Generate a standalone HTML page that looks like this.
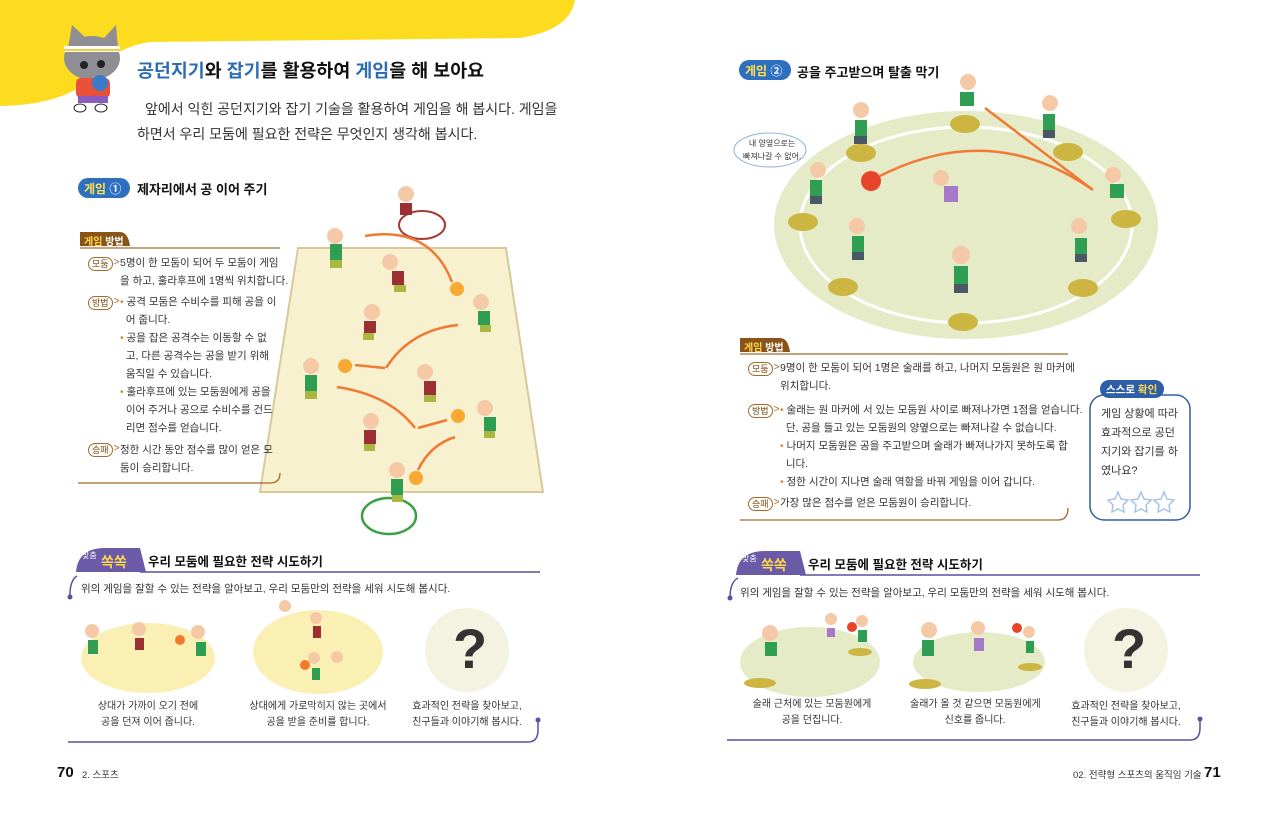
<!DOCTYPE html>
<html><head><meta charset="utf-8"><style>
*{margin:0;padding:0;box-sizing:border-box}
body{width:1280px;height:814px;background:#fff;position:relative;overflow:hidden;font-family:"Liberation Sans","Noto Sans CJK KR",sans-serif;color:#333}
.t{position:absolute;white-space:nowrap}
.s{font-size:10.5px;color:#333;line-height:18px}
.lbl{position:absolute;font-size:9px;color:#7a4a14;border:1px solid #a36a2a;border-radius:8px;padding:0 3px;line-height:12px;background:#fff}
.lbl:after{content:">";position:absolute;right:-8px;top:-1px;color:#a36a2a;font-size:10px}
.b{color:#e08a3a}
svg{position:absolute;left:0;top:0}
</style></head><body>
<svg width="1280" height="814">
<path d="M0 0 H575 Q570 30 520 38 L150 42 Q110 48 90 80 Q60 105 0 106 Z" fill="#fddc1f"/>
<g>
<ellipse cx="92" cy="58" rx="28" ry="22" fill="#8e8e94"/>
<path d="M68 48 L72 25 L86 38 Z M104 38 L116 25 L118 48 Z" fill="#8e8e94"/>
<rect x="64" y="46" width="56" height="6" fill="#fff"/>
<rect x="64" y="49" width="56" height="2" fill="#f2d03c"/>
<circle cx="84" cy="65" r="4" fill="#222"/><circle cx="101" cy="64" r="4" fill="#222"/>
<rect x="76" y="78" width="34" height="20" rx="5" fill="#e8503a"/>
<rect x="78" y="96" width="30" height="7" fill="#8a5cc0"/>
<circle cx="100" cy="83" r="8" fill="#3a7ac8"/>
<ellipse cx="80" cy="108" rx="6" ry="4" fill="#fff" stroke="#222"/><ellipse cx="101" cy="108" rx="6" ry="4" fill="#fff" stroke="#222"/>
</g>
<polygon points="298,248 506,248 543,492 260,492" fill="#f8f1cf" stroke="#d8c99a" stroke-width="2"/>
<ellipse cx="422" cy="225" rx="23" ry="14" fill="none" stroke="#a83a35" stroke-width="2"/>
<ellipse cx="389" cy="516" rx="27" ry="18" fill="none" stroke="#3aa040" stroke-width="2.5"/>
<g fill="none" stroke="#f07a35" stroke-width="2.5">
<path d="M365 236 Q430 225 452 282"/><path d="M458 325 Q410 330 386 368"/><path d="M385 368 L355 365"/>
<path d="M337 387 Q390 395 415 428"/><path d="M418 428 L447 420"/><path d="M455 437 Q430 445 418 470"/>
</g>
<g fill="#f7a933"><circle cx="457" cy="289" r="7"/><circle cx="345" cy="366" r="7"/><circle cx="458" cy="416" r="7"/><circle cx="416" cy="478" r="7"/></g>
<g>
<g fill="#f5c9a5"><circle cx="406" cy="194" r="8"/><circle cx="335" cy="236" r="8"/><circle cx="390" cy="262" r="8"/><circle cx="481" cy="302" r="8"/><circle cx="372" cy="312" r="8"/><circle cx="311" cy="366" r="8"/><circle cx="425" cy="372" r="8"/><circle cx="485" cy="408" r="8"/><circle cx="371" cy="421" r="8"/><circle cx="397" cy="470" r="8"/></g>
<g fill="#2f9d52"><rect x="330" y="244" width="12" height="16"/><rect x="478" y="311" width="12" height="14"/><rect x="305" y="375" width="12" height="16"/><rect x="484" y="417" width="12" height="14"/><rect x="391" y="479" width="12" height="16"/></g>
<g fill="#9b2f33"><rect x="400" y="203" width="12" height="12"/><rect x="392" y="271" width="12" height="14"/><rect x="364" y="321" width="12" height="12"/><rect x="424" y="381" width="12" height="14"/><rect x="364" y="430" width="12" height="14"/></g>
<g fill="#a8b843"><rect x="330" y="260" width="12" height="8"/><rect x="394" y="285" width="12" height="7"/><rect x="480" y="325" width="11" height="7"/><rect x="363" y="333" width="11" height="7"/><rect x="305" y="391" width="12" height="8"/><rect x="424" y="395" width="12" height="7"/><rect x="484" y="431" width="11" height="7"/><rect x="364" y="444" width="11" height="7"/><rect x="392" y="495" width="11" height="7"/></g>
</g>
<ellipse cx="966" cy="225" rx="192" ry="114" fill="#e6ebc7"/>
<ellipse cx="966" cy="225" rx="166" ry="98" fill="none" stroke="#fff" stroke-width="3"/>
<g fill="#cdb542"><ellipse cx="965" cy="124" rx="15" ry="9"/><ellipse cx="861" cy="153" rx="15" ry="9"/><ellipse cx="1068" cy="152" rx="15" ry="9"/><ellipse cx="803" cy="222" rx="15" ry="9"/><ellipse cx="1126" cy="219" rx="15" ry="9"/><ellipse cx="843" cy="287" rx="15" ry="9"/><ellipse cx="1083" cy="288" rx="15" ry="9"/><ellipse cx="963" cy="322" rx="15" ry="9"/></g>
<g fill="none" stroke="#f07a35" stroke-width="2.5"><path d="M985 108 L1093 190"/><path d="M1090 188 Q990 120 880 176"/></g>
<circle cx="871" cy="181" r="10" fill="#e8442a"/>
<g fill="#f5c9a5"><circle cx="968" cy="82" r="8"/><circle cx="861" cy="110" r="8"/><circle cx="1050" cy="103" r="8"/><circle cx="818" cy="170" r="8"/><circle cx="941" cy="178" r="8"/><circle cx="1113" cy="175" r="8"/><circle cx="857" cy="226" r="8"/><circle cx="1079" cy="226" r="8"/><circle cx="961" cy="255" r="9"/></g>
<g fill="#2f9d52"><rect x="960" y="92" width="14" height="14"/><rect x="855" y="120" width="12" height="16"/><rect x="1043" y="114" width="12" height="16"/><rect x="810" y="180" width="12" height="16"/><rect x="1110" y="184" width="14" height="14"/><rect x="852" y="236" width="12" height="16"/><rect x="1075" y="238" width="12" height="16"/><rect x="954" y="266" width="14" height="18"/></g>
<rect x="944" y="186" width="14" height="16" fill="#a679c8"/>
<g fill="#4a5866"><rect x="854" y="136" width="13" height="8"/><rect x="1043" y="130" width="12" height="8"/><rect x="810" y="196" width="12" height="8"/><rect x="852" y="252" width="12" height="8"/><rect x="1075" y="254" width="12" height="8"/><rect x="954" y="284" width="14" height="9"/></g>
<ellipse cx="770" cy="150" rx="36" ry="17" fill="#fff" stroke="#8fb2d8"/>
<rect x="1090" y="395" width="100" height="125" rx="14" fill="#fff" stroke="#2f5ea8" stroke-width="1.5"/>
<rect x="1100" y="380" width="64" height="18" rx="9" fill="#2f5ea8"/>
<g fill="none" stroke="#a9c2e6" stroke-width="1.5"><polygon points="1118,492 1121,499 1128,500 1123,505 1124,512 1118,509 1112,512 1113,505 1108,500 1115,499"/><polygon points="1141,492 1144,499 1151,500 1146,505 1147,512 1141,509 1135,512 1136,505 1131,500 1138,499"/><polygon points="1164,492 1167,499 1174,500 1169,505 1170,512 1164,509 1158,512 1159,505 1154,500 1161,499"/></g>
<g stroke="#a36a2a" stroke-width="1.3" fill="none"><path d="M80 248 H280"/><path d="M78 483 H270 Q280 483 280 473"/><path d="M740 354 H1068"/><path d="M740 520 H1058 Q1068 520 1068 508"/></g>
<path d="M80 232 h40 q8 0 10 14 h-50 z" fill="#8a5418"/>
<path d="M740 338 h40 q8 0 10 14 h-50 z" fill="#8a5418"/>
<rect x="78" y="178" width="52" height="20" rx="10" fill="#2f6fc0"/>
<rect x="739" y="60" width="52" height="20" rx="10" fill="#2f6fc0"/>
<g stroke="#5a4fa0" stroke-width="1.5" fill="none">
<path d="M140 572 H540"/><path d="M77 576 Q70 580 70 595"/><path d="M68 742 H528 Q538 742 538 730 V720"/>
<path d="M800 575 H1200"/><path d="M738 578 Q730 582 730 598"/><path d="M727 740 H1190 Q1200 740 1200 728 V720"/>
</g>
<g fill="#5a4fa0"><circle cx="70" cy="597" r="2.5"/><circle cx="538" cy="720" r="2.5"/><circle cx="730" cy="598" r="2.5"/><circle cx="1200" cy="719" r="2.5"/></g>
<path d="M76 572 Q78 548 105 548 H140 L146 572 Z" fill="#6a5aa8"/>
<path d="M736 575 Q738 551 765 551 H800 L806 575 Z" fill="#6a5aa8"/>
<ellipse cx="148" cy="658" rx="67" ry="35" fill="#fbf0b4"/>
<ellipse cx="318" cy="652" rx="65" ry="42" fill="#fbf0b4"/>
<circle cx="467" cy="650" r="42" fill="#f4f2e0"/>
<ellipse cx="810" cy="662" rx="70" ry="35" fill="#e6ebc7"/>
<ellipse cx="979" cy="662" rx="66" ry="30" fill="#e6ebc7"/>
<circle cx="1126" cy="650" r="42" fill="#f4f2e0"/>
<g fill="#f5c9a5"><circle cx="92" cy="631" r="7"/><circle cx="139" cy="629" r="7"/><circle cx="198" cy="632" r="7"/><circle cx="285" cy="606" r="6"/><circle cx="316" cy="618" r="6"/><circle cx="314" cy="658" r="6"/><circle cx="337" cy="657" r="6"/><circle cx="770" cy="633" r="8"/><circle cx="831" cy="619" r="6"/><circle cx="862" cy="621" r="6"/><circle cx="929" cy="630" r="8"/><circle cx="978" cy="628" r="7"/><circle cx="1029" cy="632" r="6"/></g>
<g fill="#2f9d52"><rect x="88" y="640" width="10" height="14"/><rect x="196" y="642" width="10" height="14"/><rect x="312" y="668" width="8" height="12"/><rect x="765" y="642" width="12" height="14"/><rect x="858" y="630" width="9" height="12"/><rect x="922" y="640" width="12" height="16"/><rect x="1026" y="641" width="8" height="12"/></g>
<g fill="#9b2f33"><rect x="135" y="638" width="9" height="12"/><rect x="313" y="626" width="8" height="12"/></g>
<rect x="974" y="638" width="10" height="13" fill="#a679c8"/><rect x="827" y="628" width="8" height="9" fill="#a679c8"/>
<g fill="#f07a2a"><circle cx="180" cy="640" r="5"/><circle cx="305" cy="665" r="5"/></g><g fill="#e8442a"><circle cx="852" cy="627" r="5"/><circle cx="1017" cy="628" r="5"/></g>
<g fill="#cdb542"><ellipse cx="760" cy="683" rx="16" ry="5"/><ellipse cx="860" cy="652" rx="12" ry="4"/><ellipse cx="925" cy="684" rx="16" ry="5"/><ellipse cx="1030" cy="667" rx="12" ry="4"/></g>
</svg>
<div class="t" style="left:137px;top:57px;font-size:18.4px;font-weight:bold;color:#111"><span style="color:#2e6db4">공던지기</span>와 <span style="color:#2e6db4">잡기</span>를 활용하여 <span style="color:#2e6db4">게임</span>을 해 보아요</div>
<div class="t" style="left:145px;top:99px;font-size:14px;color:#333">앞에서 익힌 공던지기와 잡기 기술을 활용하여 게임을 해 봅시다. 게임을</div>
<div class="t" style="left:137px;top:124px;font-size:14px;color:#333">하면서 우리 모둠에 필요한 전략은 무엇인지 생각해 봅시다.</div>
<div class="t" style="left:84px;top:180px;font-size:12px;font-weight:bold;color:#ffe04a">게임 <span style="color:#fff">①</span></div>
<div class="t" style="left:137px;top:179px;font-size:13px;font-weight:bold;color:#111">제자리에서 공 이어 주기</div>
<div class="t" style="left:84px;top:233px;font-size:10px;font-weight:bold;color:#ffd84a">게임 <span style="color:#fff">방법</span></div>
<span class="lbl" style="left:88px;top:257px">모둠</span>
<div class="t s" style="left:120px;top:254px">5명이 한 모둠이 되어 두 모둠이 게임<br>을 하고, 훌라후프에 1명씩 위치합니다.</div>
<span class="lbl" style="left:88px;top:296px">방법</span>
<div class="t s" style="left:120px;top:293px"><span class="b">•</span> 공격 모둠은 수비수를 피해 공을 이<br>&nbsp;&nbsp;어 줍니다.<br><span class="b">•</span> 공을 잡은 공격수는 이동할 수 없<br>&nbsp;&nbsp;고, 다른 공격수는 공을 받기 위해<br>&nbsp;&nbsp;움직일 수 있습니다.<br><span class="b">•</span> 훌라후프에 있는 모둠원에게 공을<br>&nbsp;&nbsp;이어 주거나 공으로 수비수를 건드<br>&nbsp;&nbsp;리면 점수를 얻습니다.</div>
<span class="lbl" style="left:88px;top:443px">승패</span>
<div class="t s" style="left:120px;top:441px">정한 시간 동안 점수를 많이 얻은 모<br>둠이 승리합니다.</div>

<div class="t" style="left:745px;top:62px;font-size:12px;font-weight:bold;color:#ffe04a">게임 <span style="color:#fff">②</span></div>
<div class="t" style="left:797px;top:62px;font-size:13px;font-weight:bold;color:#111">공을 주고받으며 탈출 막기</div>
<div class="t" style="left:743px;top:137px;font-size:8px;line-height:13px;text-align:center;color:#333">내 양옆으로는<br>빠져나갈 수 없어.</div>
<div class="t" style="left:744px;top:339px;font-size:10px;font-weight:bold;color:#ffd84a">게임 <span style="color:#fff">방법</span></div>
<span class="lbl" style="left:748px;top:362px">모둠</span>
<div class="t s" style="left:780px;top:359px">9명이 한 모둠이 되어 1명은 술래를 하고, 나머지 모둠원은 원 마커에<br>위치합니다.</div>
<span class="lbl" style="left:748px;top:404px">방법</span>
<div class="t s" style="left:780px;top:401px"><span class="b">•</span> 술래는 원 마커에 서 있는 모둠원 사이로 빠져나가면 1점을 얻습니다.<br>&nbsp;&nbsp;단, 공을 들고 있는 모둠원의 양옆으로는 빠져나갈 수 없습니다.<br><span class="b">•</span> 나머지 모둠원은 공을 주고받으며 술래가 빠져나가지 못하도록 합<br>&nbsp;&nbsp;니다.<br><span class="b">•</span> 정한 시간이 지나면 술래 역할을 바꿔 게임을 이어 갑니다.</div>
<span class="lbl" style="left:748px;top:497px">승패</span>
<div class="t s" style="left:780px;top:494px">가장 많은 점수를 얻은 모둠원이 승리합니다.</div>
<div class="t" style="left:1106px;top:382px;font-size:10.5px;font-weight:bold;color:#fff">스스로 <span style="color:#ffd84a">확인</span></div>
<div class="t" style="left:1101px;top:405px;font-size:11px;line-height:19px;color:#333">게임 상황에 따라<br>효과적으로 공던<br>지기와 잡기를 하<br>였나요?</div>

<div class="t" style="left:82px;top:550px;font-size:8px;color:#fff">맞춤</div><div class="t" style="left:101px;top:552px;font-size:14px;font-weight:bold;color:#ffd84a">쏙쏙</div>
<div class="t" style="left:148px;top:551px;font-size:12.5px;font-weight:bold;color:#111">우리 모둠에 필요한 전략 시도하기</div>
<div class="t" style="left:81px;top:581px;font-size:10.5px;color:#333">위의 게임을 잘할 수 있는 전략을 알아보고, 우리 모둠만의 전략을 세워 시도해 봅시다.</div>
<div class="t" style="left:88px;top:699px;font-size:10px;line-height:16px;text-align:center;width:120px">상대가 가까이 오기 전에<br>공을 던져 이어 줍니다.</div>
<div class="t" style="left:248px;top:699px;font-size:10px;line-height:16px;text-align:center;width:140px">상대에게 가로막히지 않는 곳에서<br>공을 받을 준비를 합니다.</div>
<div class="t" style="left:407px;top:699px;font-size:10px;line-height:16px;text-align:center;width:120px">효과적인 전략을 찾아보고,<br>친구들과 이야기해 봅시다.</div>
<div class="t" style="left:453px;top:616px;font-size:56px;font-weight:bold;color:#333">?</div>

<div class="t" style="left:742px;top:553px;font-size:8px;color:#fff">맞춤</div><div class="t" style="left:761px;top:555px;font-size:14px;font-weight:bold;color:#ffd84a">쏙쏙</div>
<div class="t" style="left:808px;top:554px;font-size:12.5px;font-weight:bold;color:#111">우리 모둠에 필요한 전략 시도하기</div>
<div class="t" style="left:740px;top:585px;font-size:10.5px;color:#333">위의 게임을 잘할 수 있는 전략을 알아보고, 우리 모둠만의 전략을 세워 시도해 봅시다.</div>
<div class="t" style="left:752px;top:697px;font-size:10px;line-height:16px;text-align:center;width:120px">술래 근처에 있는 모둠원에게<br>공을 던집니다.</div>
<div class="t" style="left:910px;top:697px;font-size:10px;line-height:16px;text-align:center;width:130px">술래가 올 것 같으면 모둠원에게<br>신호를 줍니다.</div>
<div class="t" style="left:1066px;top:699px;font-size:10px;line-height:16px;text-align:center;width:120px">효과적인 전략을 찾아보고,<br>친구들과 이야기해 봅시다.</div>
<div class="t" style="left:1112px;top:616px;font-size:56px;font-weight:bold;color:#333">?</div>

<div class="t" style="left:57px;top:764px;font-size:15px;font-weight:bold;color:#111">70</div>
<div class="t" style="left:82px;top:767px;font-size:9.5px;color:#333">2. 스포츠</div>
<div class="t" style="left:1073px;top:767px;font-size:9.5px;color:#333">02. 전략형 스포츠의 움직임 기술</div>
<div class="t" style="left:1204px;top:764px;font-size:15px;font-weight:bold;color:#111">71</div>
</body></html>
